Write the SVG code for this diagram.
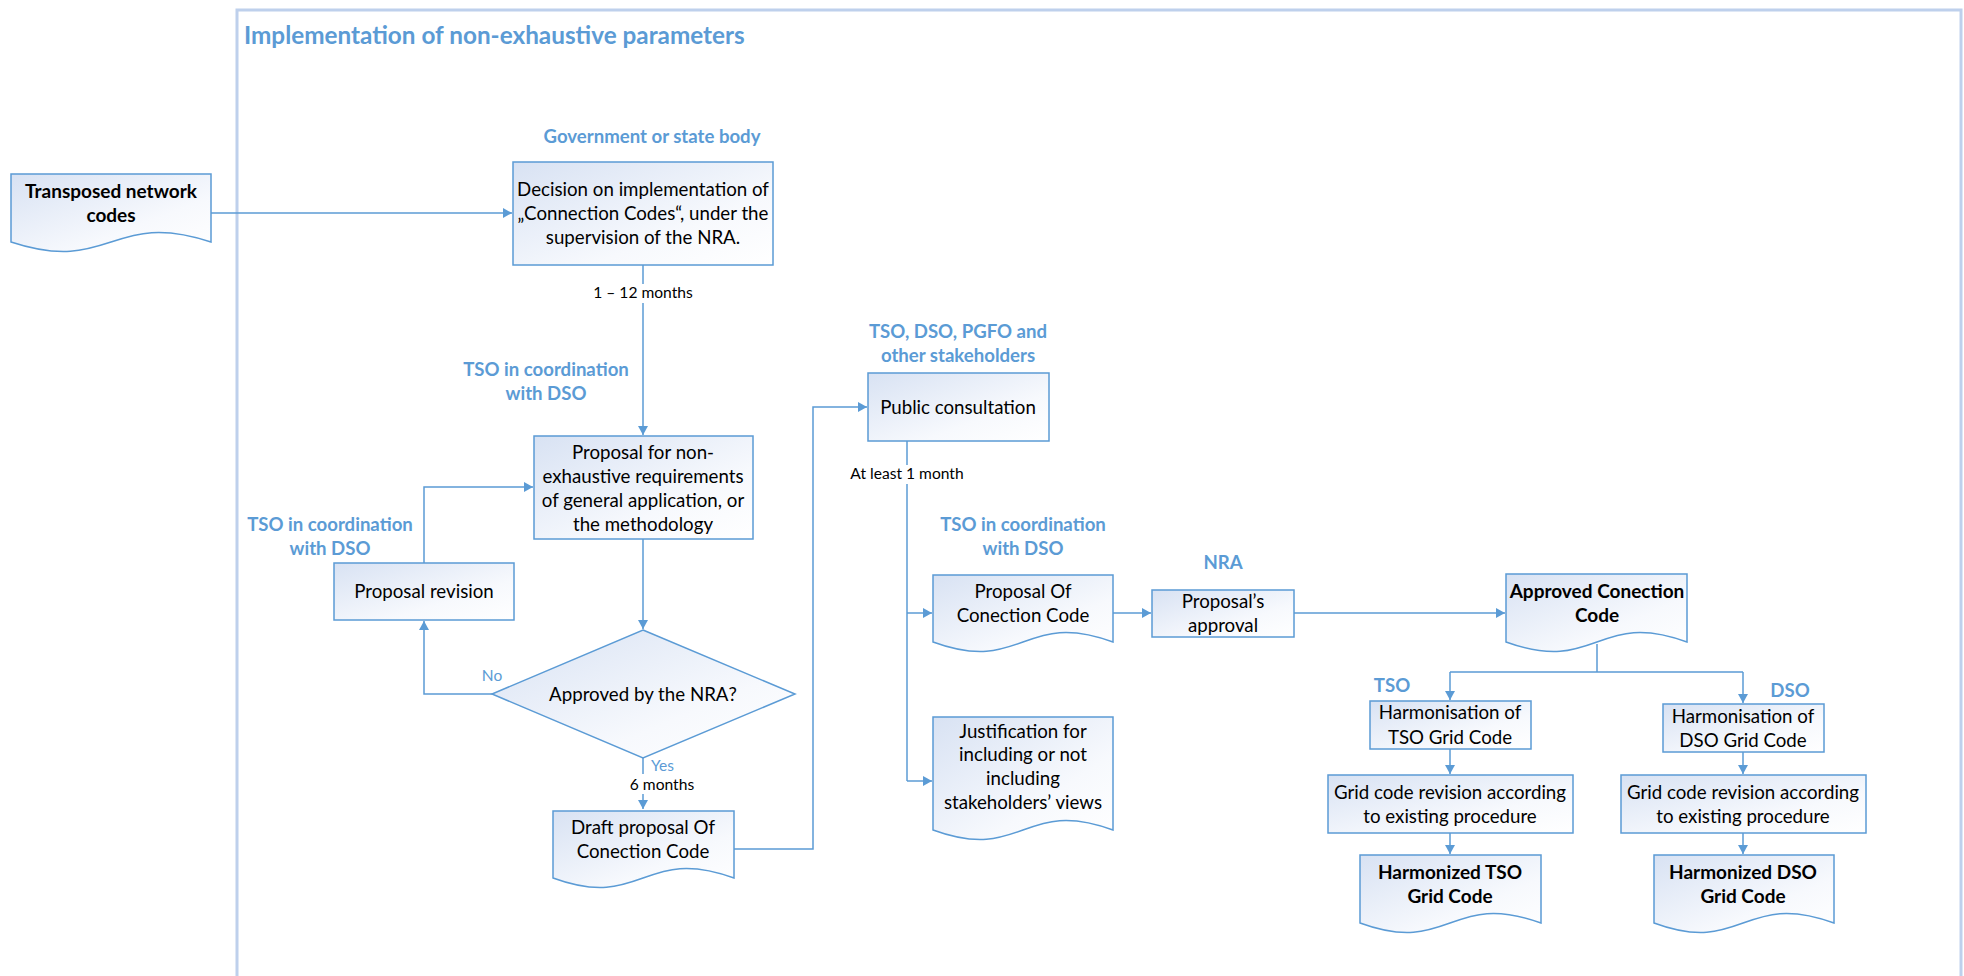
<svg xmlns="http://www.w3.org/2000/svg" width="1964" height="976" viewBox="0 0 1964 976">
<defs>
<linearGradient id="g" x1="0" y1="0" x2="1" y2="1">
<stop offset="0" stop-color="#d8e2f3"/>
<stop offset="0.65" stop-color="#f7f9fd"/>
<stop offset="1" stop-color="#ffffff"/>
</linearGradient>
<marker id="a" markerUnits="userSpaceOnUse" markerWidth="10" markerHeight="10" refX="9" refY="5" orient="auto">
<path d="M0,0 L9,5 L0,10 z" fill="#5b9bd5"/>
</marker>
<style>
.n{fill:url(#g);stroke:#5b9bd5;stroke-width:1.5}
.c{fill:none;stroke:#5b9bd5;stroke-width:1.5}
.ca{fill:none;stroke:#5b9bd5;stroke-width:1.5;marker-end:url(#a)}
text{font-family:Lato,"Liberation Sans",sans-serif;text-anchor:middle}
.t{font-size:18.7px;fill:#000}
.b{font-size:19px;font-weight:bold;fill:#000}
.l{font-size:18.6px;font-weight:bold;fill:#5b9bd5}
.s{font-size:15.6px;fill:#000}
.y{font-size:15.5px;fill:#5b9bd5}
</style>
</defs>
<rect width="1964" height="976" fill="#ffffff"/>
<g id="frame">
<rect x="237" y="10" width="1724" height="1000" fill="none" stroke="#bed0ec" stroke-width="3"/>
<text x="244" y="44" style="font-size:24.3px;font-weight:bold;fill:#5b9bd5;text-anchor:start">Implementation of non-exhaustive parameters</text>
</g>
<g id="connectors">
<path class="ca" d="M211,213 H512"/>
<path class="ca" d="M643,265 V435"/>
<path class="ca" d="M643,539 V629"/>
<path class="ca" d="M492,694 H424 V621"/>
<path class="ca" d="M424,563 V487 H533"/>
<path class="ca" d="M643,758 V809"/>
<path class="ca" d="M734,849 H813 V407 H867"/>
<path class="c" d="M907,441 V781"/>
<path class="ca" d="M907,613 H932"/>
<path class="ca" d="M907,781 H932"/>
<path class="ca" d="M1113,613 H1151"/>
<path class="ca" d="M1294,613 H1505"/>
<path class="c" d="M1597,644 V672 M1450,672 H1743"/>
<path class="ca" d="M1450,672 V700"/>
<path class="ca" d="M1743,672 V703"/>
<path class="ca" d="M1450,749 V774"/>
<path class="ca" d="M1743,752 V774"/>
<path class="ca" d="M1450,833 V854"/>
<path class="ca" d="M1743,833 V854"/>
<rect x="588" y="284" width="110" height="19" fill="#ffffff"/>
<text class="s" x="643" y="298">1 – 12 months</text>
<rect x="846" y="465" width="123" height="19" fill="#ffffff"/>
<text class="s" x="907" y="479">At least 1 month</text>
<text class="y" x="492" y="681">No</text>
<rect x="626" y="774" width="74" height="20" fill="#ffffff"/>
<text class="y" x="651" y="771" style="text-anchor:start">Yes</text>
<text class="s" x="662" y="790">6 months</text>
</g>
<g id="transposed">
<path class="n" d="M11,174 H211 V242 C111,209 111,275 11,242 Z"/>
<text class="b" x="111" y="198">Transposed network</text>
<text class="b" x="111" y="222">codes</text>
</g>
<g id="decision">
<text class="l" x="652" y="143">Government or state body</text>
<rect class="n" x="513" y="162" width="260" height="103"/>
<text class="t" x="643" y="196">Decision on implementation of</text>
<text class="t" x="643" y="220">„Connection Codes“, under the</text>
<text class="t" x="643" y="244">supervision of the NRA.</text>
</g>
<g id="proposal">
<text class="l" x="546" y="376">TSO in coordination</text>
<text class="l" x="546" y="400">with DSO</text>
<rect class="n" x="534" y="436" width="219" height="103"/>
<text class="t" x="643" y="459">Proposal for non-</text>
<text class="t" x="643" y="483">exhaustive requirements</text>
<text class="t" x="643" y="507">of general application, or</text>
<text class="t" x="643" y="531">the methodology</text>
</g>
<g id="revision">
<text class="l" x="330" y="531">TSO in coordination</text>
<text class="l" x="330" y="555">with DSO</text>
<rect class="n" x="334" y="563" width="180" height="57"/>
<text class="t" x="424" y="598">Proposal revision</text>
</g>
<g id="approved-nra">
<path class="n" d="M643,630 L795,694 L643,758 L492,694 Z"/>
<text class="t" x="643" y="701">Approved by the NRA?</text>
</g>
<g id="draft">
<path class="n" d="M553,811 H734 V878 C643,845 643,911 553,878 Z"/>
<text class="t" x="643" y="834">Draft proposal Of</text>
<text class="t" x="643" y="858">Conection Code</text>
</g>
<g id="public-consultation">
<text class="l" x="958" y="338">TSO, DSO, PGFO and</text>
<text class="l" x="958" y="362">other stakeholders</text>
<rect class="n" x="868" y="373" width="181" height="68"/>
<text class="t" x="958" y="414">Public consultation</text>
</g>
<g id="proposal-code">
<text class="l" x="1023" y="531">TSO in coordination</text>
<text class="l" x="1023" y="555">with DSO</text>
<path class="n" d="M933,575 H1113 V642 C1023,609 1023,675 933,642 Z"/>
<text class="t" x="1023" y="598">Proposal Of</text>
<text class="t" x="1023" y="622">Conection Code</text>
</g>
<g id="justification">
<path class="n" d="M933,717 H1113 V830 C1023,797 1023,863 933,830 Z"/>
<text class="t" x="1023" y="738">Justification for</text>
<text class="t" x="1023" y="761">including or not</text>
<text class="t" x="1023" y="785">including</text>
<text class="t" x="1023" y="809">stakeholders’ views</text>
</g>
<g id="proposal-approval">
<text class="l" x="1223" y="569">NRA</text>
<rect class="n" x="1152" y="590" width="142" height="47"/>
<text class="t" x="1223" y="608">Proposal’s</text>
<text class="t" x="1223" y="632">approval</text>
</g>
<g id="approved-code">
<path class="n" d="M1506,574 H1687 V642 C1597,609 1597,675 1506,642 Z"/>
<text class="b" x="1597" y="598">Approved Conection</text>
<text class="b" x="1597" y="622">Code</text>
</g>
<g id="harm-tso">
<text class="l" x="1392" y="692">TSO</text>
<rect class="n" x="1370" y="701" width="161" height="48"/>
<text class="t" x="1450" y="719">Harmonisation of</text>
<text class="t" x="1450" y="744">TSO Grid Code</text>
</g>
<g id="harm-dso">
<text class="l" x="1790" y="697">DSO</text>
<rect class="n" x="1663" y="704" width="161" height="48"/>
<text class="t" x="1743" y="723">Harmonisation of</text>
<text class="t" x="1743" y="747">DSO Grid Code</text>
</g>
<g id="rev-tso">
<rect class="n" x="1328" y="775" width="245" height="58"/>
<text class="t" x="1450" y="799">Grid code revision according</text>
<text class="t" x="1450" y="823">to existing procedure</text>
</g>
<g id="rev-dso">
<rect class="n" x="1621" y="775" width="245" height="58"/>
<text class="t" x="1743" y="799">Grid code revision according</text>
<text class="t" x="1743" y="823">to existing procedure</text>
</g>
<g id="harmonized-tso">
<path class="n" d="M1360,855 H1541 V923 C1450,890 1450,956 1360,923 Z"/>
<text class="b" x="1450" y="879">Harmonized TSO</text>
<text class="b" x="1450" y="903">Grid Code</text>
</g>
<g id="harmonized-dso">
<path class="n" d="M1654,855 H1834 V923 C1743,890 1743,956 1654,923 Z"/>
<text class="b" x="1743" y="879">Harmonized DSO</text>
<text class="b" x="1743" y="903">Grid Code</text>
</g>
</svg>
